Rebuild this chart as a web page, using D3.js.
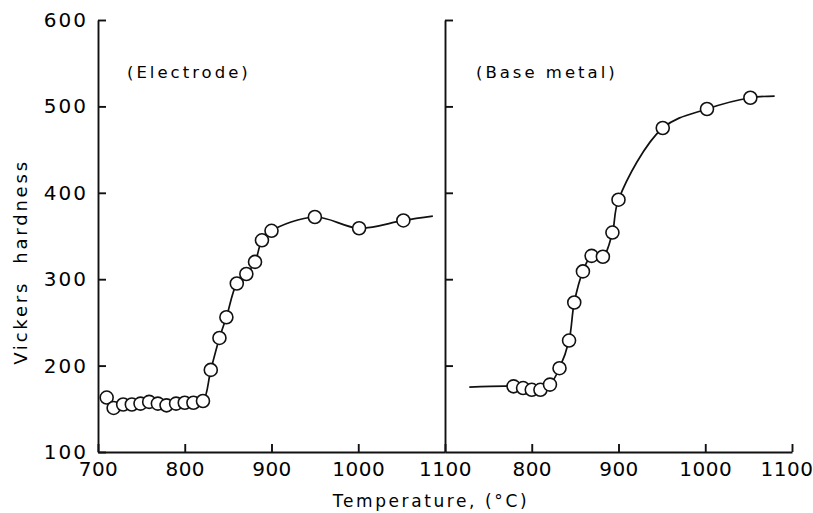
<!doctype html>
<html lang="en">
<head>
  <meta charset="utf-8">
  <title>Vickers hardness vs temperature</title>
  <script src="https://d3js.org/d3.v7.min.js"></script>
  <style type="text/css">
    html, body { margin: 0; padding: 0; background: #fff; }
    svg { display: block; }
    text { font-family: "DejaVu Sans", sans-serif; fill: #000; }
    .axis path, .axis line { stroke: #111; stroke-width: 1.9; }
    .axis text { font-size: 20px; letter-spacing: 0.5px; }
  </style>
</head>
<body>
<script>
  // tick labels
  var yTicks = [100, 200, 300, 400, 500, 600];
  var xTicksLeft = [700, 800, 900, 1000, 1100];
  var xTicksRight = [800, 900, 1000, 1100];

  // (Electrode) measured points
  var electrodeT = [710, 718, 729, 739, 749, 759, 769, 779, 790, 800, 810, 821, 830, 840, 848, 860, 871, 881, 889, 900, 950, 1001, 1052];
  var electrodeH = [163, 151, 155, 155, 156, 158, 156, 154, 156, 157, 157, 159, 195, 232, 256, 295, 306, 320, 345, 356, 372, 359, 368];
  // hand-drawn fit line ends
  var electrodeLineEndT = 1086, electrodeLineEndH = 373;

  // (Base metal) measured points
  var baseT = [779, 790, 800, 810, 821, 832, 843, 849, 859, 869, 882, 893, 900, 951, 1002, 1052];
  var baseH = [176, 174, 172, 172, 178, 197, 229, 273, 309, 327, 326, 354, 392, 475, 497, 510];
  var baseLineStartT = 728, baseLineStartH = 175;
  var baseLineEndT = 1080, baseLineEndH = 512;

  var W = 813, H = 513;
  var svg = d3.select("body").append("svg")
    .attr("width", W)
    .attr("height", H);

  var y = d3.scaleLinear().domain([100, 600]).range([452, 20]);
  var xL = d3.scaleLinear().domain([700, 1100]).range([98, 445]);
  var xR = d3.scaleLinear().domain([700, 1100]).range([445, 792]);

  // left y axis with labels
  svg.append("g")
    .attr("class", "axis")
    .attr("transform", "translate(98,0)")
    .call(d3.axisLeft(y).tickValues(yTicks).tickSizeInner(-8).tickSizeOuter(0).tickPadding(10))
    .selectAll("text").style("letter-spacing", "2px");

  // right y axis, ticks only
  svg.append("g")
    .attr("class", "axis")
    .attr("transform", "translate(445,0)")
    .call(d3.axisLeft(y).tickValues(yTicks.slice(1)).tickSizeInner(-8).tickSizeOuter(0).tickFormat(""));

  // bottom axes
  svg.append("g")
    .attr("class", "axis")
    .attr("transform", "translate(0,452)")
    .call(d3.axisBottom(xL).tickValues(xTicksLeft).tickSizeInner(-8).tickSizeOuter(0).tickPadding(10).tickFormat(d3.format("d")));

  var axR = svg.append("g")
    .attr("class", "axis")
    .attr("transform", "translate(0,452)")
    .call(d3.axisBottom(xR).tickValues(xTicksRight).tickSizeInner(-8).tickSizeOuter(0).tickPadding(10).tickFormat(d3.format("d")));
  // last label sits against the page edge in the original
  axR.selectAll("text").filter(function(d) { return d === 1100; })
    .attr("text-anchor", "end").attr("dx", "21px");

  // fit curves
  var lineL = d3.line()
    .x(function(d) { return xL(d[0]); })
    .y(function(d) { return y(d[1]); })
    .curve(d3.curveCatmullRom.alpha(0.5));
  var lineR = d3.line()
    .x(function(d) { return xR(d[0]); })
    .y(function(d) { return y(d[1]); })
    .curve(d3.curveCatmullRom.alpha(0.5));

  var elecPts = electrodeT.map(function(t, i) { return [t, electrodeH[i]]; });
  var basePts = baseT.map(function(t, i) { return [t, baseH[i]]; });

  svg.append("path")
    .datum(elecPts.concat([[electrodeLineEndT, electrodeLineEndH]]))
    .attr("d", lineL)
    .attr("fill", "none")
    .attr("stroke", "#111")
    .attr("stroke-width", 1.7);

  svg.append("path")
    .datum([[baseLineStartT, baseLineStartH]].concat(basePts).concat([[baseLineEndT, baseLineEndH]]))
    .attr("d", lineR)
    .attr("fill", "none")
    .attr("stroke", "#111")
    .attr("stroke-width", 1.7);

  // open circle markers
  svg.append("g").selectAll("circle")
    .data(elecPts)
    .enter().append("circle")
    .attr("cx", function(d) { return xL(d[0]); })
    .attr("cy", function(d) { return y(d[1]); })
    .attr("r", 6.5)
    .attr("fill", "#fff")
    .attr("stroke", "#111")
    .attr("stroke-width", 1.6);

  svg.append("g").selectAll("circle")
    .data(basePts)
    .enter().append("circle")
    .attr("cx", function(d) { return xR(d[0]); })
    .attr("cy", function(d) { return y(d[1]); })
    .attr("r", 6.5)
    .attr("fill", "#fff")
    .attr("stroke", "#111")
    .attr("stroke-width", 1.6);

  // panel labels
  svg.append("text")
    .attr("x", 127).attr("y", 78)
    .style("font-size", "16.5px").style("letter-spacing", "3px")
    .text("(Electrode)");

  svg.append("text")
    .attr("x", 476).attr("y", 78)
    .style("font-size", "16.5px").style("letter-spacing", "3px")
    .text("(Base metal)");

  // axis titles
  svg.append("text")
    .attr("text-anchor", "middle")
    .attr("x", 431).attr("y", 507)
    .style("font-size", "17px").style("letter-spacing", "2.6px")
    .text("Temperature, (\u00b0C)");

  svg.append("text")
    .attr("text-anchor", "middle")
    .attr("transform", "translate(27,262) rotate(-90)")
    .style("font-size", "18px").style("letter-spacing", "2.8px")
    .style("white-space", "pre")
    .text("Vickers  hardness");
</script>
</body>
</html>
